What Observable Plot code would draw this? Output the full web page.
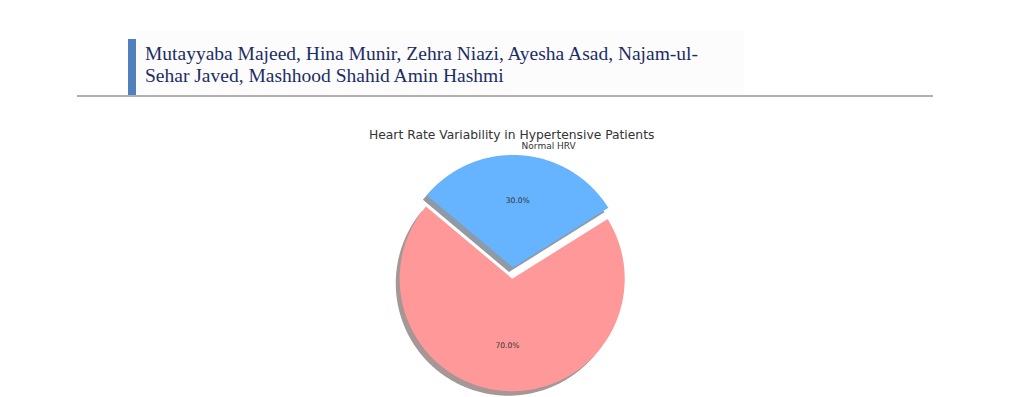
<!DOCTYPE html>
<html>
<head>
<meta charset="utf-8">
<script src="https://cdn.jsdelivr.net/npm/d3@7"></script>
<script src="https://cdn.jsdelivr.net/npm/@observablehq/plot@0.6"></script>
<style>
  html, body { margin: 0; padding: 0; background: #fff; }
  body { width: 1024px; height: 397px; overflow: hidden; position: relative; }
  #panel { position: absolute; left: 136px; top: 31px; width: 608px; height: 64px; background: #fcfcfc; }
  #bar { position: absolute; left: 128px; top: 39px; width: 8px; height: 58px; background: #4f81bd; }
  #rule { position: absolute; left: 77px; top: 95px; width: 856px; height: 2px; background: #b0b0b0; }
  #authors { position: absolute; left: 145px; top: 42.5px; font-family: "Liberation Serif", "Times New Roman", serif;
             font-size: 19.5px; line-height: 22px; color: #1c2d66; white-space: nowrap; }
  #title { position: absolute; left: 0; width: 1023.4px; top: 128px; text-align: center;
           font-family: "DejaVu Sans", sans-serif; font-size: 12.3px; line-height: 15px; color: #333; }
  #chart { position: absolute; left: 0; top: 100px; }
</style>
</head>
<body>
<div id="panel"></div>
<div id="bar"></div>
<div id="rule"></div>
<div id="authors">Mutayyaba Majeed, Hina Munir, Zehra Niazi, Ayesha Asad, Najam-ul-<br>Sehar Javed, Mashhood Shahid Amin Hashmi</div>
<div id="title">Heart Rate Variability in Hypertensive Patients</div>
<div id="chart"></div>
<script>
// ---- data ----
const labels = ["Reduced HRV", "Normal HRV"];
const values = [70, 30];
const colors = ["#ff9999", "#66b3ff"];
const explode = [0, 0.1];
const startAngle = 140;

// ---- layout (pixels) ----
const W = 1024, H = 320;
const cx = 511.7, cy = 178.2, R = 112.5; // pie centre inside svg, radius

// ---- geometry in radius units ----
const total = d3.sum(values);
const wedges = [];
let acc = 0;
values.forEach((v, i) => {
  const t1 = startAngle + acc / total * 360;
  const t2 = startAngle + (acc + v) / total * 360;
  acc += v;
  const mid = (t1 + t2) / 2 * Math.PI / 180;
  const ox = explode[i] * Math.cos(mid), oy = explode[i] * Math.sin(mid);
  wedges.push({label: labels[i], value: v, color: colors[i], t1, t2, mid, ox, oy});
});

function shadowColor(c) {
  const k = d3.rgb(c);
  const a = 0.5;
  return d3.rgb(255 * (1 - a) + 0.3 * k.r * a, 255 * (1 - a) + 0.3 * k.g * a, 255 * (1 - a) + 0.3 * k.b * a).formatHex();
}

const shadowDX = -0.035, shadowDY = -0.04;
const polys = [];
const shadows = [];
wedges.forEach((w, i) => {
  const pts = [[w.ox, w.oy]];
  const n = Math.ceil(w.t2 - w.t1) * 2;
  for (let k = 0; k <= n; k++) {
    const a = (w.t1 + (w.t2 - w.t1) * k / n) * Math.PI / 180;
    pts.push([w.ox + Math.cos(a), w.oy + Math.sin(a)]);
  }
  pts.forEach(([x, y]) => {
    polys.push({key: w.label, x, y, fill: w.color});
    shadows.push({key: w.label, x: x + shadowDX, y: y + shadowDY, fill: shadowColor(w.color)});
  });
});

const pctLabels = wedges.map(w => ({
  x: w.ox + 0.6 * Math.cos(w.mid), y: w.oy + 0.6 * Math.sin(w.mid),
  text: (w.value / total * 100).toFixed(1) + "%"
}));
const nameLabels = wedges.map(w => ({
  x: w.ox + 1.1 * Math.cos(w.mid), y: w.oy + 1.1 * Math.sin(w.mid),
  text: w.label
}));

const chart = Plot.plot({
  width: W, height: H,
  marginLeft: 0, marginRight: 0, marginTop: 0, marginBottom: 0,
  x: {domain: [-cx / R, (W - cx) / R], axis: null},
  y: {domain: [-(H - cy) / R, cy / R], axis: null},
  color: {type: "identity"},
  style: {fontFamily: "DejaVu Sans, sans-serif", background: "transparent", overflow: "visible"},
  marks: [
    Plot.line(shadows, {x: "x", y: "y", z: "key", fill: "fill", stroke: "none", curve: "linear-closed"}),
    Plot.line(polys, {x: "x", y: "y", z: "key", fill: "fill", stroke: "none", curve: "linear-closed"}),
    Plot.text(pctLabels, {x: "x", y: "y", text: "text", fontSize: 7.6, fill: "#333"}),
    Plot.text(nameLabels.filter(d => d.x >= 0), {x: "x", y: "y", text: "text", fontSize: 9, fill: "#333", textAnchor: "start", dy: 2}),
    Plot.text(nameLabels.filter(d => d.x < 0), {x: "x", y: "y", text: "text", fontSize: 9, fill: "#333", textAnchor: "end", dy: 2})
  ]
});
document.getElementById("chart").appendChild(chart);
</script>
</body>
</html>
